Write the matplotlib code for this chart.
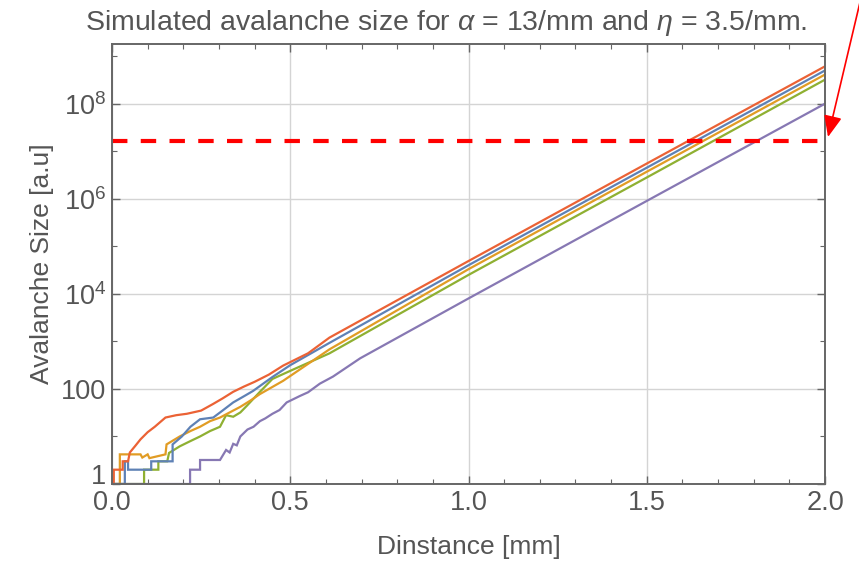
import numpy as np
import matplotlib.pyplot as plt
import matplotlib as mpl
import matplotlib.transforms as mtransforms
from matplotlib.ticker import FixedLocator, MultipleLocator, NullFormatter

mpl.rcParams.update({
    "font.family": "Liberation Sans",
    "mathtext.fontset": "custom",
    "mathtext.rm": "Liberation Sans",
    "mathtext.it": "Liberation Sans:italic",
})

# -------------------------
# Data
# -------------------------

x_red = [0, 0.005, 0.005, 0.03, 0.03, 0.045, 0.05, 0.065, 0.08, 0.10, 0.12, 0.15, 0.18,
         0.21, 0.25, 0.283, 0.31, 0.34, 0.37, 0.40, 0.44, 0.48, 0.55, 0.61, 1.0, 1.5, 2.0]
y_red = [1, 1, 2, 2, 3, 3, 4.6, 6.3, 8.7, 12.3, 16, 25, 28,
         30, 35, 48, 63, 87, 112, 141, 200, 309, 562, 1200, 4.9e4, 5.5e6, 6.1e8]

x_blue = [0, 0.036, 0.036, 0.045, 0.045, 0.11, 0.11, 0.17, 0.17, 0.196, 0.22, 0.247,
          0.284, 0.31, 0.34, 0.37, 0.396, 0.45, 0.5, 0.61, 1.0, 1.5, 2.0]
y_blue = [1, 1, 3, 3, 2, 2, 3, 3, 6.8, 10, 16, 23,
          25, 35, 52, 70, 91, 178, 316, 930, 4.0e4, 4.5e6, 5.0e8]

x_orange = [0, 0.022, 0.022, 0.08, 0.085, 0.10, 0.105, 0.15, 0.153, 0.19, 0.22, 0.247,
            0.275, 0.303, 0.33, 0.36, 0.39, 0.415, 0.48, 0.61, 1.0, 1.5, 2.0]
y_orange = [1, 1, 4.2, 4.2, 3.6, 4.2, 3.5, 4.2, 6.8, 10, 13, 16,
            21, 25, 32, 42, 58, 78, 148, 680, 3.3e4, 3.7e6, 4.1e8]

x_green = [0, 0.09, 0.09, 0.13, 0.13, 0.155, 0.16, 0.19, 0.22, 0.247, 0.275, 0.303,
           0.32, 0.34, 0.36, 0.378, 0.415, 0.45, 0.50, 0.61, 1.0, 1.5, 2.0]
y_green = [1, 1, 2, 2, 3, 3, 4.5, 6.2, 8, 10, 13, 16,
           28, 26, 32, 44, 87, 162, 240, 560, 2.5e4, 2.8e6, 3.2e8]

x_purple = [0, 0.219, 0.219, 0.247, 0.247, 0.303, 0.32, 0.33, 0.34, 0.35, 0.36, 0.38,
            0.397, 0.415, 0.43, 0.45, 0.47, 0.49, 0.527, 0.55, 0.583, 0.62, 0.696,
            1.0, 1.5, 2.0]
y_purple = [1, 1, 2, 2, 3.2, 3.2, 5.2, 4.6, 7, 6.5, 10, 14,
            16, 21, 24, 30, 36, 52, 71, 85, 129, 182, 440,
            8.0e3, 9.0e5, 1.0e8]

threshold = 1.66e7

y_tick_vals = [1, 100, 1e4, 1e6, 1e8]
y_tick_labels = ["1", "100", "$10^4$", "$10^6$", "$10^8$"]
x_tick_vals = [0.0, 0.5, 1.0, 1.5, 2.0]

# -------------------------
# Plot settings
# -------------------------

series = [
    (x_green, y_green, "#8FB032"),
    (x_orange, y_orange, "#E19C24"),
    (x_blue, y_blue, "#5E81B5"),
    (x_red, y_red, "#EB6235"),
    (x_purple, y_purple, "#8778B3"),
]

text_color = "#555555"
frame_color = "#666666"

fig = plt.figure(figsize=(8.59, 5.61), dpi=100)
ax = fig.add_axes([112 / 859, 77 / 561, 713 / 859, 440 / 561])

for xs, ys, c in series:
    ax.plot(xs, ys, color=c, lw=1.6, solid_joinstyle="miter")

ax.set_yscale("log")
ax.set_xlim(0, 2.0)
ax.set_ylim(1, 1.8e9)

ax.xaxis.set_major_locator(FixedLocator(x_tick_vals))
ax.set_xticklabels([f"{v:.1f}" for v in x_tick_vals])
ax.xaxis.set_minor_locator(MultipleLocator(0.1))

ax.yaxis.set_major_locator(FixedLocator(y_tick_vals))
ax.set_yticklabels(y_tick_labels)
ax.yaxis.set_minor_locator(FixedLocator([10, 1e3, 1e5, 1e7, 1e9]))
ax.yaxis.set_minor_formatter(NullFormatter())

ax.tick_params(which="both", direction="in", top=True, right=True, color=frame_color)
ax.tick_params(which="major", length=6, width=1, labelsize=19.5, labelcolor=text_color, pad=4)
ax.tick_params(which="minor", length=3.5, width=0.8)

# the "1" label sits a little higher, just above "0.0"
lift = mtransforms.ScaledTranslation(0, 7.5 / 72, fig.dpi_scale_trans)
first = ax.get_yticklabels()[0]
first.set_transform(first.get_transform() + lift)

ax.grid(which="major", color="#d4d4d4", lw=1)
ax.set_axisbelow(True)
for s in ax.spines.values():
    s.set_color(frame_color)
    s.set_linewidth(1.4)

ax.set_xlabel("Dinstance [mm]", fontsize=19, color=text_color, labelpad=14)
ax.set_ylabel("Avalanche Size [a.u]", fontsize=19, color=text_color, labelpad=5)
ax.set_title(r"Simulated avalanche size for $\alpha$ = 13/mm and $\eta$ = 3.5/mm.",
             fontsize=20.5, color=text_color, pad=10, x=(446 - 112) / 713)

# threshold line
ax.axhline(threshold, color="#ff0000", lw=3, dashes=(3.7, 3.2))

# arrow from outside the top right corner
ax.annotate("", xy=(828, 561 - 137), xycoords="figure pixels",
            xytext=(861, 563), textcoords="figure pixels",
            arrowprops=dict(arrowstyle="-|>,head_length=1.3,head_width=0.55",
                            color="#ff0000", lw=1.2, shrinkA=0, shrinkB=0))

plt.savefig("out.png", dpi=100)
